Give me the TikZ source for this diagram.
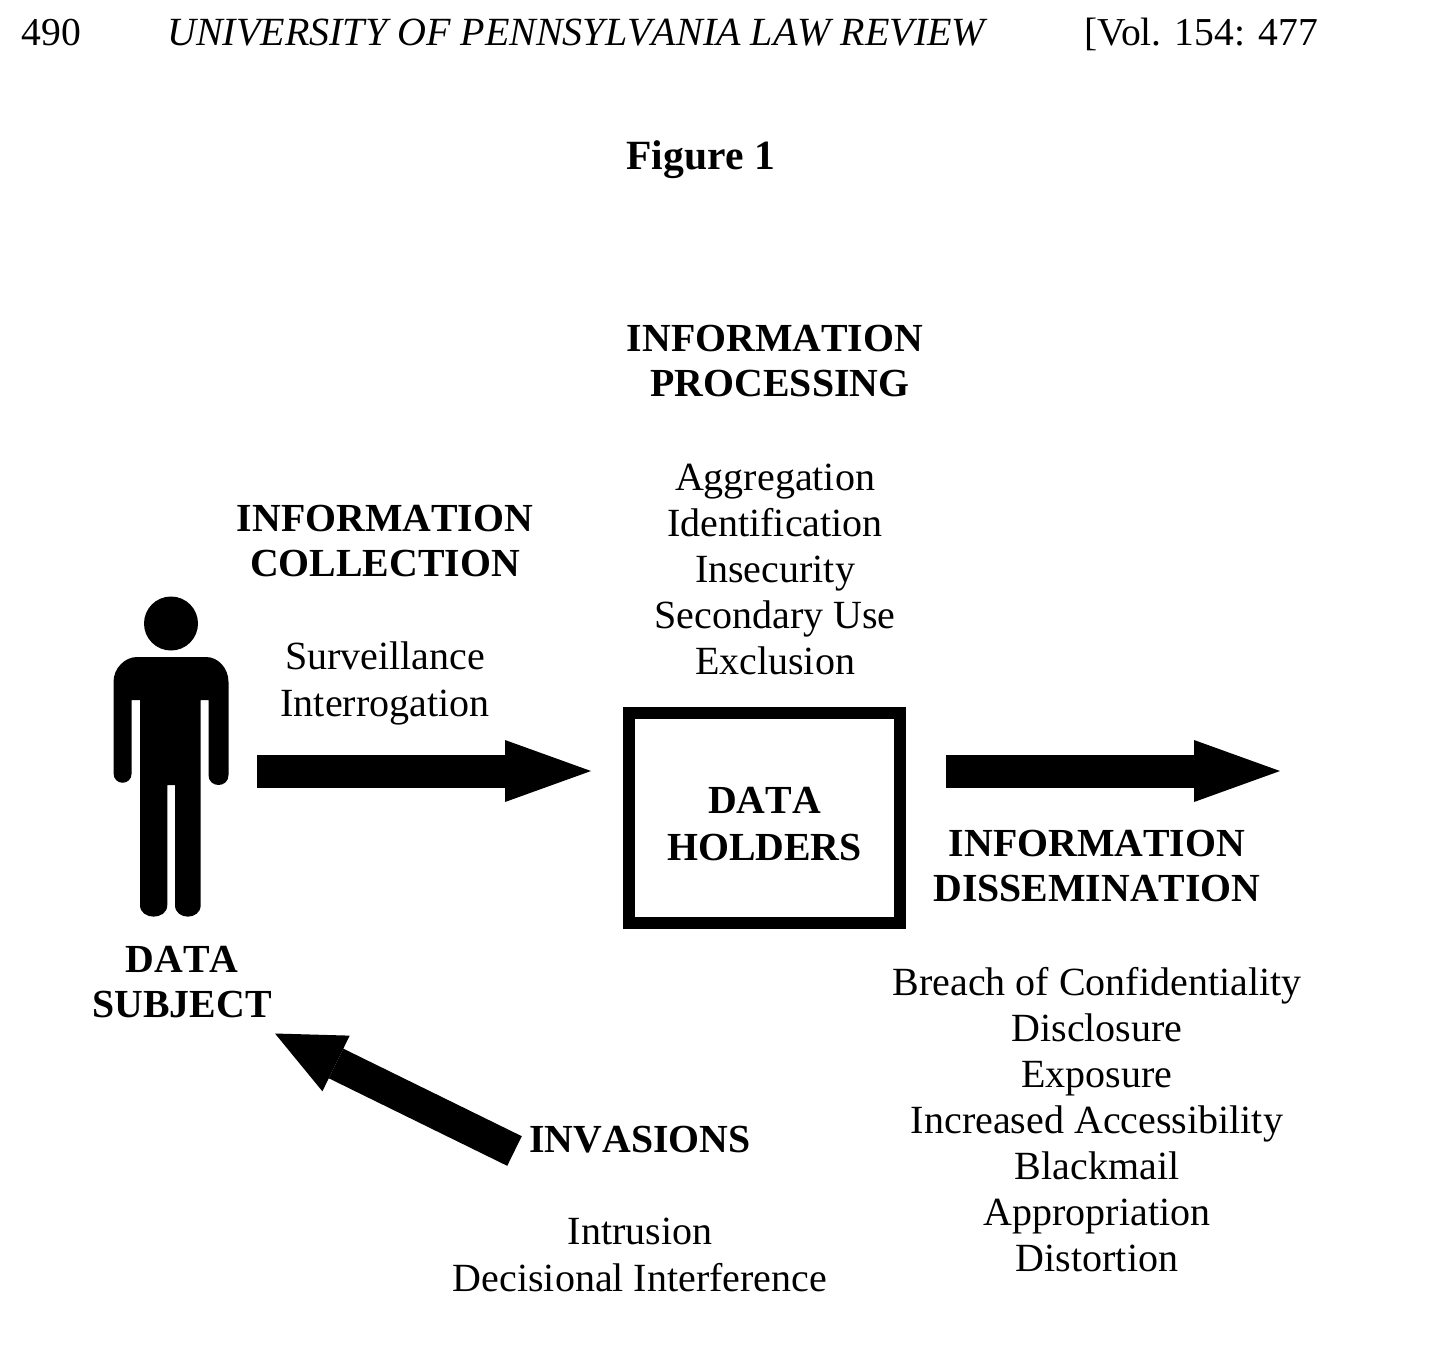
\documentclass[tikz,border=0pt]{standalone}
\usepackage{fontspec}
\setmainfont[Kerning=Off]{Liberation Serif}
\usetikzlibrary{arrows.meta,positioning}

\begin{document}
\begin{tikzpicture}[
    x=0.5pt, y=-0.5pt,
    every node/.style = {align=center, inner sep=0pt, font=\fontsize{19.8}{23}\selectfont},
    head/.style    = {font=\fontsize{19.9}{22.7}\selectfont\bfseries},
    items/.style   = {font=\fontsize{20}{23}\selectfont},
    pagehead/.style = {anchor=base west},
    holderbox/.style = {draw, line width=6pt, minimum width=135.5pt, minimum height=105pt},
    bigarr/.style  = {-{Triangle[length=#1, width=31pt, line width=0pt]}, line width=16.5pt},
    figure/.style  = {fill=black},
]
\useasboundingbox (0,0) rectangle (1455,1349);

% ---------------- Page header ----------------
\node[pagehead] (pageno) at (21,45.5) {490};
\node[pagehead, font=\fontsize{20}{23}\selectfont\itshape] (journal) at (167,45.5) {UNIVERSITY OF PENNSYLVANIA LAW REVIEW};
\node[pagehead, font=\fontsize{19.8}{23}\selectfont\addfontfeature{Kerning=On}] (volume) at (1084,45.5) {[Vol. 154: 477};
\node[anchor=base, font=\fontsize{20.8}{23}\selectfont\bfseries] (figtitle) at (701,169) {Figure 1};

% ---------------- Data subject ----------------
\fill[figure] (171,623.5) circle (13.5pt);
\fill[figure] (137,657) -- (206,657) .. controls (218,657) and (228.5,668) .. (228.5,682) -- (228.5,775)
    .. controls (228.5,788.3) and (208.5,788.3) .. (208.5,775) -- (208.5,700) -- (200.7,700) -- (200.7,905)
    .. controls (200.7,920.5) and (175,920.5) .. (175,905) -- (175,785) -- (167.3,785) -- (167.3,905)
    .. controls (167.3,920.5) and (140,920.5) .. (140,905) -- (140,700) -- (131.7,700) -- (131.7,773)
    .. controls (131.7,786) and (113.5,786) .. (113.5,773) -- (113.5,682)
    .. controls (113.5,668) and (125,657) .. (137,657) -- cycle;
\node[head] (subject) at (182,982) {DATA\\SUBJECT};

% ---------------- Data holders ----------------
\node[holderbox] (holders) at (764.5,818) {};
\node[head, yshift=-3pt, font=\fontsize{19.9}{23.5}\selectfont\bfseries] (holderstxt) at (holders) {DATA\\HOLDERS};

% ---------------- Information processing ----------------
\node[head] (prochead) at (775,361) {INFORMATION\\\hspace*{5pt}PROCESSING};
\node[items, below=33pt of prochead] (proclist) {Aggregation\\Identification\\Insecurity\\Secondary Use\\Exclusion};

% ---------------- Information collection ----------------
\node[head] (collhead) at (385,541) {INFORMATION\\COLLECTION};
\node[items, below=32pt of collhead, font=\fontsize{20}{23.6}\selectfont] (colllist) {Surveillance\\Interrogation};

% ---------------- Information dissemination ----------------
\node[head] (disshead) at (1097,866) {INFORMATION\\DISSEMINATION};
\node[items, below=32pt of disshead] (disslist) {Breach of Confidentiality\\Disclosure\\Exposure\\Increased Accessibility\\Blackmail\\Appropriation\\Distortion};

% ---------------- Invasions ----------------
\node[head] (invhead) at (640,1140) {INVASIONS};
\node[items, below=32pt of invhead, font=\fontsize{20}{23.6}\selectfont] (invlist) {Intrusion\\Decisional Interference};

% ---------------- Arrows ----------------
\coordinate (collstart) at (257,771);
\coordinate (collend)   at (591,771);
\coordinate (dissstart) at (946,771);
\coordinate (dissend)   at (1280,771);
\coordinate (invstart)  at (514.5,1151);
\coordinate (invend)    at (275,1033.5);

\draw[bigarr=43pt] (collstart) -- (collend);
\draw[bigarr=43pt] (dissstart) -- (dissend);
\draw[bigarr=34pt] (invstart) -- (invend);

\end{tikzpicture}
\end{document}
